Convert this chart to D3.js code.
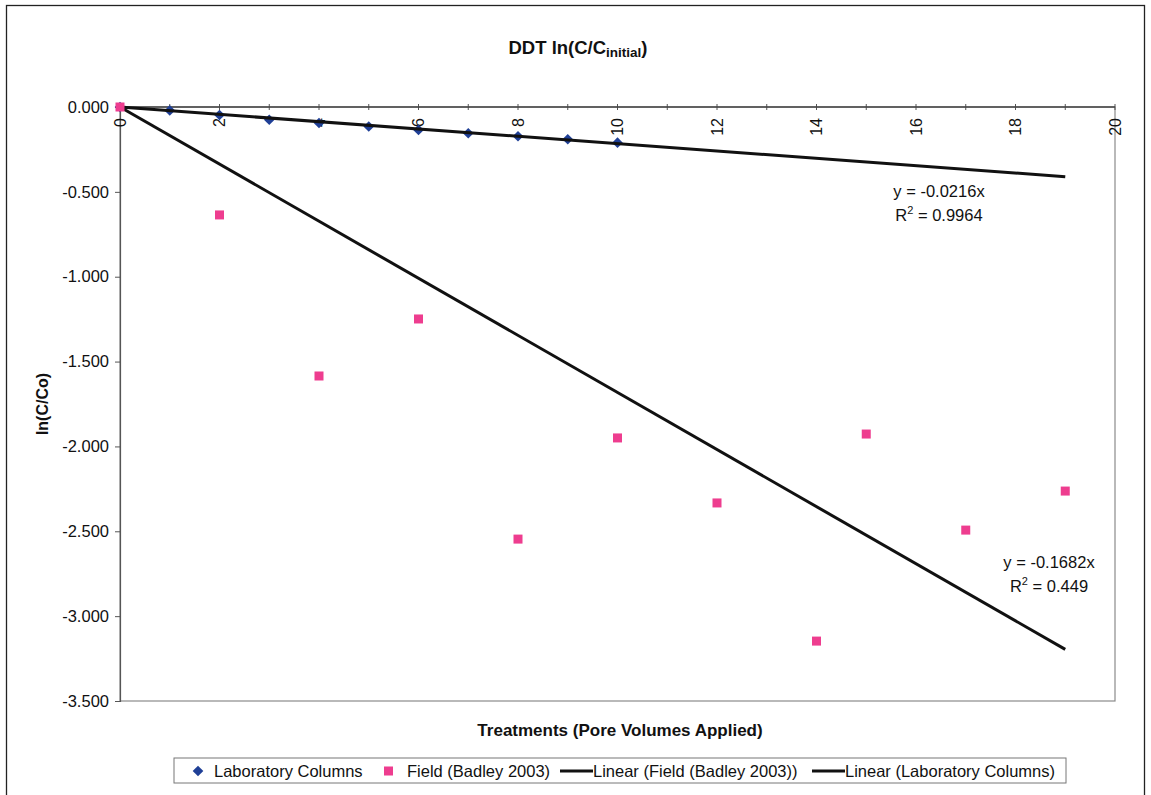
<!DOCTYPE html>
<html>
<head>
<meta charset="utf-8">
<script src="https://cdn.jsdelivr.net/npm/d3@7"></script>
<style>
  html, body { margin: 0; padding: 0; background: #ffffff; }
  svg { display: block; font-family: "Liberation Sans", Arial, sans-serif; }
</style>
</head>
<body>
<svg id="chart" width="1151" height="795"></svg>
<script>
// Laboratory column results: pore volumes vs ln(C/Co)
const labX = [0, 1, 2, 3, 4, 5, 6, 7, 8, 9, 10];
const labY = [0, -0.020, -0.047, -0.075, -0.094, -0.115, -0.135, -0.155, -0.172, -0.190, -0.210];

// Field results (Badley 2003)
const fieldX = [0, 2, 4, 6, 8, 10, 12, 14, 15, 17, 19];
const fieldY = [0, -0.636, -1.585, -1.249, -2.546, -1.950, -2.333, -3.147, -1.927, -2.493, -2.263];

// Linear trendlines through the origin
const labSlope = -0.0216, labR2 = "0.9964";
const fieldSlope = -0.1682, fieldR2 = "0.449";
const trendEndX = 19;

const xTicks = [0, 2, 4, 6, 8, 10, 12, 14, 16, 18, 20];
const xMinorTicks = d3.range(0, 21, 1);
const yTicks = [0, -0.5, -1.0, -1.5, -2.0, -2.5, -3.0, -3.5];

const legendItems = ["Laboratory Columns", "Field (Badley 2003)", "Linear (Field (Badley 2003))", "Linear (Laboratory Columns)"];

const svg = d3.select("#chart");
const plot = { left: 120, right: 1115, top: 107, bottom: 701 };

const x = d3.scaleLinear().domain([0, 20]).range([plot.left, plot.right]);
const y = d3.scaleLinear().domain([-3.5, 0]).range([plot.bottom, plot.top]);

// outer chart frame
svg.append("rect")
  .attr("x", 6.5).attr("y", 5.5).attr("width", 1138).attr("height", 800)
  .attr("fill", "#ffffff").attr("stroke", "#222").attr("stroke-width", 1.3);

// plot area border
svg.append("rect")
  .attr("x", plot.left).attr("y", plot.top)
  .attr("width", plot.right - plot.left).attr("height", plot.bottom - plot.top)
  .attr("fill", "none").attr("stroke", "#8a8a8a").attr("stroke-width", 1.2);

// title
const title = svg.append("text")
  .attr("x", 578).attr("y", 54)
  .attr("text-anchor", "middle")
  .attr("font-size", 18.5).attr("font-weight", "bold").attr("fill", "#111");
title.append("tspan").text("DDT ln(C/C");
title.append("tspan").attr("font-size", 13.5).attr("dy", 3).text("initial");
title.append("tspan").attr("dy", -3).text(")");

// y axis (plain hyphen for negatives)
const fmt = d3.format(".3f");
const yAxis = d3.axisLeft(y).tickValues(yTicks)
  .tickFormat(d => fmt(d).replace("\u2212", "-")).tickSize(5).tickPadding(6);
const gy = svg.append("g").attr("transform", `translate(${plot.left},0)`).call(yAxis);
gy.select(".domain").attr("stroke", "#555").attr("stroke-width", 1.2);
gy.selectAll(".tick line").attr("stroke", "#555");
gy.selectAll(".tick text").attr("font-size", 16.5).attr("fill", "#111")
  .attr("font-family", "Liberation Sans, Arial, sans-serif");

// x axis along y = 0 with ticks crossing the line
const gxMinor = svg.append("g").attr("transform", `translate(0,${y(0)})`);
gxMinor.selectAll("line").data(xMinorTicks).join("line")
  .attr("x1", d => x(d)).attr("x2", d => x(d))
  .attr("y1", -3).attr("y2", 3)
  .attr("stroke", "#555").attr("stroke-width", 1);
svg.append("line")
  .attr("x1", plot.left).attr("x2", plot.right)
  .attr("y1", y(0)).attr("y2", y(0))
  .attr("stroke", "#444").attr("stroke-width", 1.3);

// rotated tick labels, reading bottom to top
svg.append("g").selectAll("text").data(xTicks).join("text")
  .attr("transform", d => `translate(${x(d)},${y(0) + 11}) rotate(-90)`)
  .attr("text-anchor", "end")
  .attr("dominant-baseline", "central")
  .attr("font-size", 16).attr("fill", "#111")
  .text(d => d);

// axis titles
svg.append("text")
  .attr("x", 620).attr("y", 736)
  .attr("text-anchor", "middle")
  .attr("font-size", 17).attr("font-weight", "bold").attr("fill", "#111")
  .text("Treatments (Pore Volumes Applied)");

svg.append("text")
  .attr("transform", `translate(48,${(plot.top + plot.bottom) / 2}) rotate(-90)`)
  .attr("text-anchor", "middle")
  .attr("font-size", 16).attr("font-weight", "bold").attr("fill", "#111")
  .text("ln(C/Co)");

// lab points (blue diamonds)
const diamond = d3.symbol().type(d3.symbolDiamond2).size(72);
svg.append("g").selectAll("path").data(labX.map((d, i) => [d, labY[i]])).join("path")
  .attr("transform", d => `translate(${x(d[0])},${y(d[1])})`)
  .attr("d", diamond)
  .attr("fill", "#1f3f96");

// trendlines
const trend = [
  { slope: fieldSlope },
  { slope: labSlope }
];
svg.append("g").selectAll("line").data(trend).join("line")
  .attr("x1", x(0)).attr("y1", y(0))
  .attr("x2", x(trendEndX)).attr("y2", d => y(d.slope * trendEndX))
  .attr("stroke", "#111").attr("stroke-width", 3).attr("stroke-linecap", "butt");

// field points (pink squares)
svg.append("g").selectAll("rect").data(fieldX.map((d, i) => [d, fieldY[i]])).join("rect")
  .attr("x", d => x(d[0]) - 4.5).attr("y", d => y(d[1]) - 4.5)
  .attr("width", 9).attr("height", 9)
  .attr("fill", "#ee3d8f");

// trendline equations
function equation(cx, cy, slope, r2) {
  const g = svg.append("g").attr("font-size", 16.5).attr("fill", "#111").attr("text-anchor", "middle");
  g.append("text").attr("x", cx).attr("y", cy).text(`y = ${slope}x`);
  const t = g.append("text").attr("x", cx).attr("y", cy + 24);
  t.append("tspan").text("R");
  t.append("tspan").attr("font-size", 11).attr("dy", -7).text("2");
  t.append("tspan").attr("dy", 7).text(` = ${r2}`);
}
equation(939, 197, labSlope, labR2);
equation(1049, 568, fieldSlope, fieldR2);

// legend
const lg = svg.append("g");
lg.append("rect")
  .attr("x", 174).attr("y", 758).attr("width", 892).attr("height", 25)
  .attr("fill", "#fff").attr("stroke", "#777").attr("stroke-width", 1);
const ly = 771;
const legendFont = 16.5;
lg.append("path").attr("transform", `translate(198,${ly})`).attr("d", diamond).attr("fill", "#1f3f96");
lg.append("text").attr("x", 214).attr("y", ly).attr("dominant-baseline", "central")
  .attr("font-size", legendFont).attr("fill", "#111").text(legendItems[0]);
lg.append("rect").attr("x", 384).attr("y", ly - 4.5).attr("width", 9).attr("height", 9).attr("fill", "#ee3d8f");
lg.append("text").attr("x", 407).attr("y", ly).attr("dominant-baseline", "central")
  .attr("font-size", legendFont).attr("fill", "#111").text(legendItems[1]);
lg.append("line").attr("x1", 560).attr("x2", 593).attr("y1", ly).attr("y2", ly)
  .attr("stroke", "#111").attr("stroke-width", 3);
lg.append("text").attr("x", 593).attr("y", ly).attr("dominant-baseline", "central")
  .attr("font-size", legendFont).attr("fill", "#111").text(legendItems[2]);
lg.append("line").attr("x1", 812).attr("x2", 845).attr("y1", ly).attr("y2", ly)
  .attr("stroke", "#111").attr("stroke-width", 3);
lg.append("text").attr("x", 845).attr("y", ly).attr("dominant-baseline", "central")
  .attr("font-size", legendFont).attr("fill", "#111").text(legendItems[3]);
</script>
</body>
</html>
